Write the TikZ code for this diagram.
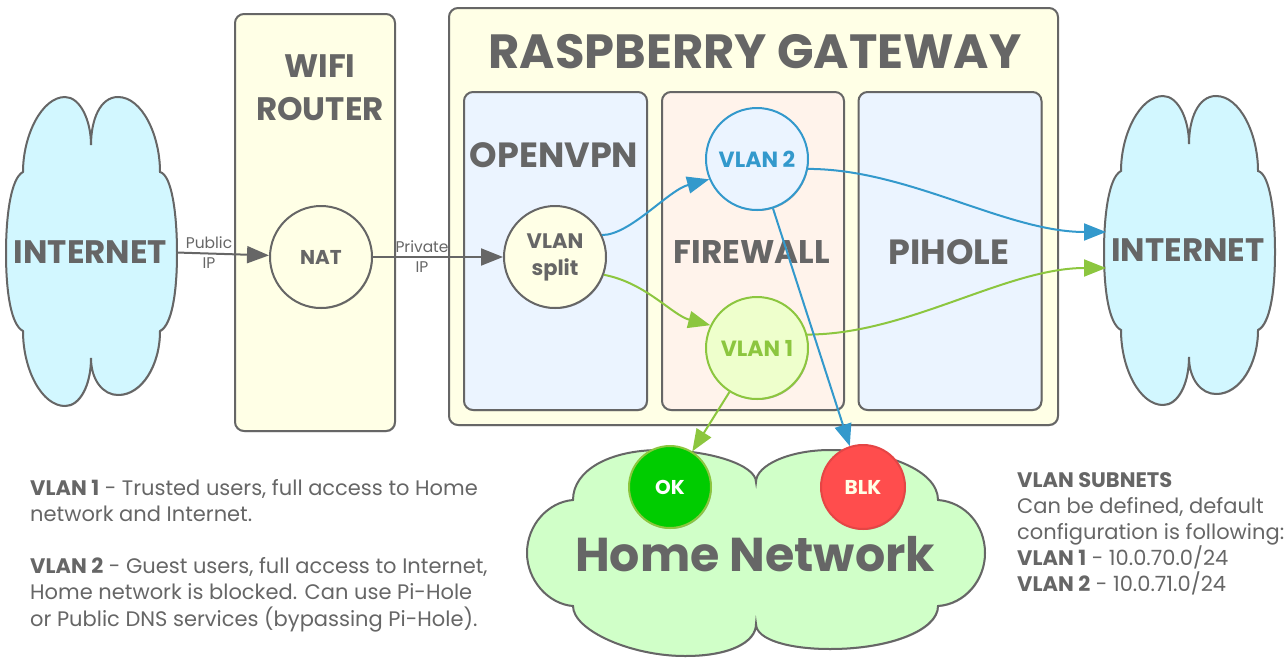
\documentclass[tikz,border=0pt]{standalone}
\usepackage{fontspec}
\setmainfont{Poppins}
\usetikzlibrary{arrows.meta,shadows}
\definecolor{inkgray}{HTML}{666666}
\definecolor{skyfill}{HTML}{D2F7FF}
\definecolor{creamfill}{HTML}{FFFFE6}
\definecolor{paleblue}{HTML}{EBF4FF}
\definecolor{palepeach}{HTML}{FFF3EB}
\definecolor{homefill}{HTML}{D0FFC8}
\definecolor{limefill}{HTML}{EEFFCC}
\definecolor{vlangreen}{HTML}{8CC63F}
\definecolor{vlanblue}{HTML}{3399CC}
\definecolor{okfill}{HTML}{00CC00}
\definecolor{blkfill}{HTML}{FF4D4D}
\tikzset{
	softshadow/.style={drop shadow={shadow xshift=0.8pt,shadow yshift=-1pt,opacity=0.3,fill=black}},
	panel/.style={draw=inkgray,line width=2pt,rounded corners=9pt,softshadow,inner sep=0pt},
	hub/.style={circle,draw=inkgray,line width=2pt,fill=creamfill,softshadow,inner sep=0pt,minimum size=102pt,text=inkgray,font=\fontsize{20}{27}\selectfont\bfseries,align=center},
	cloudpath/.style={draw=inkgray,line width=2pt,softshadow},
	title/.style={text=inkgray,font=\fontsize{35}{44}\selectfont\bfseries,align=center,inner sep=0pt},
	note/.style={text=inkgray,font=\fontsize{21}{26.2}\selectfont,align=left,inner sep=0pt,anchor=north west},
	small/.style={text=inkgray,font=\fontsize{15.5}{20}\selectfont,align=center,inner sep=0pt},
	link/.style={line width=2pt,-{Triangle[length=22pt,width=17pt]}},
}
\newcommand{\vcloud}{(91,145) .. controls (91,120) and (100,97) .. (118,97)
	.. controls (142,97) and (160,135) .. (160,172)
	.. controls (172,175) and (177,215) .. (177,253)
	.. controls (177,292) and (172,325) .. (160,331)
	.. controls (160,365) and (142,395) .. (118,395)
	.. controls (103,395) and (91,380) .. (91,358)
	.. controls (91,385) and (80,406) .. (65,406)
	.. controls (42,406) and (23,370) .. (23,331)
	.. controls (11,325) and (6,292) .. (6,253)
	.. controls (6,215) and (11,178) .. (23,172)
	.. controls (23,135) and (42,97) .. (65,97)
	.. controls (80,97) and (91,120) .. (91,145) -- cycle}
\begin{document}
\begin{tikzpicture}[x=1pt,y=-1pt]
	\useasboundingbox (0,0) rectangle (1288,664);
	% clouds
	\draw[cloudpath,fill=skyfill] \vcloud;
	\begin{scope}[xshift=1098pt,yshift=1pt]
		\draw[cloudpath,fill=skyfill] \vcloud;
	\end{scope}
	\draw[cloudpath,fill=homefill] (756,482) .. controls (756,465) and (790,450) .. (830,450)
		.. controls (885,450) and (938,470) .. (938,500)
		.. controls (965,502) and (985,525) .. (985,553)
		.. controls (985,580) and (965,604) .. (938,606)
		.. controls (938,630) and (890,649) .. (830,649)
		.. controls (790,649) and (756,640) .. (756,624)
		.. controls (756,642) and (730,656) .. (685,656)
		.. controls (630,656) and (573,630) .. (573,606)
		.. controls (548,604) and (527,580) .. (527,553)
		.. controls (527,525) and (548,502) .. (573,500)
		.. controls (573,470) and (610,450) .. (660,450)
		.. controls (710,450) and (756,465) .. (756,482) -- cycle;
	\node[title,font=\fontsize{32.5}{40}\selectfont\bfseries,minimum width=171pt] (inetleft) at (90.5,252.5) {INTERNET};
	\node[title,font=\fontsize{32.5}{40}\selectfont\bfseries,minimum width=171pt] (inetright) at (1188,250.5) {INTERNET};
	\node[title,font=\fontsize{47.5}{57}\selectfont\bfseries] (homenet) at (755,554) {Home Network};
	\coordinate (inetup) at (1106,232);
	\coordinate (inetdown) at (1106,268);
	%
	\node[panel,fill=creamfill,minimum width=160pt,minimum height=417pt] (router) at (315,222.5) {};
	\node[title,font=\fontsize{32.5}{43}\selectfont\bfseries] (routertext) at (320,88) {WIFI\\ROUTER};
	%
	\node[panel,fill=creamfill,minimum width=609pt,minimum height=417pt] (gateway) at (753.5,216.5) {};
	\node[title,font=\fontsize{48}{58}\selectfont\bfseries] (gatewaytext) at (755,52) {RASPBERRY GATEWAY};
	\node[panel,fill=paleblue,minimum width=183pt,minimum height=318pt] (openvpn) at (555.5,251) {};
	\node[panel,fill=palepeach,minimum width=182pt,minimum height=318pt] (firewall) at (753,251) {};
	\node[panel,fill=paleblue,minimum width=183pt,minimum height=318pt] (pihole) at (950,251) {};
	\node[title] (openvpntext) at (554,155) {OPENVPN};
	\node[title,font=\fontsize{32.7}{40}\selectfont\bfseries] (firewalltext) at (752,252) {FIREWALL};
	\node[title] (piholetext) at (949,252) {PIHOLE};
	%
	\node[hub] (nat) at (321,257) {NAT};
	\node[hub,font=\fontsize{21}{27}\selectfont\bfseries] (vsplit) at (555,257) {VLAN\\split};
	\node[hub,draw=vlanblue,fill=paleblue,text=vlanblue,font=\fontsize{22}{27}\selectfont\bfseries] (vlan2) at (757,159) {VLAN 2};
	\node[hub,draw=vlangreen,fill=limefill,text=vlangreen,font=\fontsize{22}{27}\selectfont\bfseries] (vlan1) at (757,348) {VLAN 1};
	\node[hub,draw=vlangreen,fill=okfill,text=white,minimum size=82pt] (okdot) at (670,487) {OK};
	\node[hub,draw=blkfill!90!black,fill=blkfill,text=creamfill,minimum size=84pt] (blkdot) at (863,487) {BLK};
	%
	\draw[link,draw=inkgray] (inetleft.east) -- (nat);
	\draw[link,draw=inkgray] (nat) -- (vsplit);
	\draw[link,draw=vlanblue] (vsplit.25) .. controls +(28,0) and +(-41,11) .. (vlan2.203);
	\draw[link,draw=vlangreen] (vsplit.-20) .. controls +(42,8) and +(-38,-10) .. (vlan1.154);
	\draw[link,draw=vlanblue] (vlan2.-11) .. controls +(100,0) and +(-100,0) .. (inetup);
	\draw[link,draw=vlangreen] (vlan1.15) .. controls +(100,0) and +(-100,0) .. (inetdown);
	\draw[link,draw=vlanblue] (vlan2) -- (blkdot);
	\draw[link,draw=vlangreen] (vlan1) -- (okdot);
	%
	\node[small] (publictext) at (209,252.5) {Public\\IP};
	\node[small] (privatetext) at (422,257) {Private\\IP};
	%
	\node[note] (leftnotes) at (30,479) {\textbf{VLAN 1} - Trusted users, full access to Home\\network and Internet.\\[26pt]\textbf{VLAN 2} - Guest users, full access to Internet,\\Home network is blocked. Can use Pi-Hole\\or Public DNS services (bypassing Pi-Hole).};
	\node[note] (rightnotes) at (1017,472) {\textbf{VLAN SUBNETS}\\Can be defined, default\\configuration is following:\\\textbf{VLAN 1} - 10.0.70.0/24\\\textbf{VLAN 2} - 10.0.71.0/24};
\end{tikzpicture}
\end{document}
